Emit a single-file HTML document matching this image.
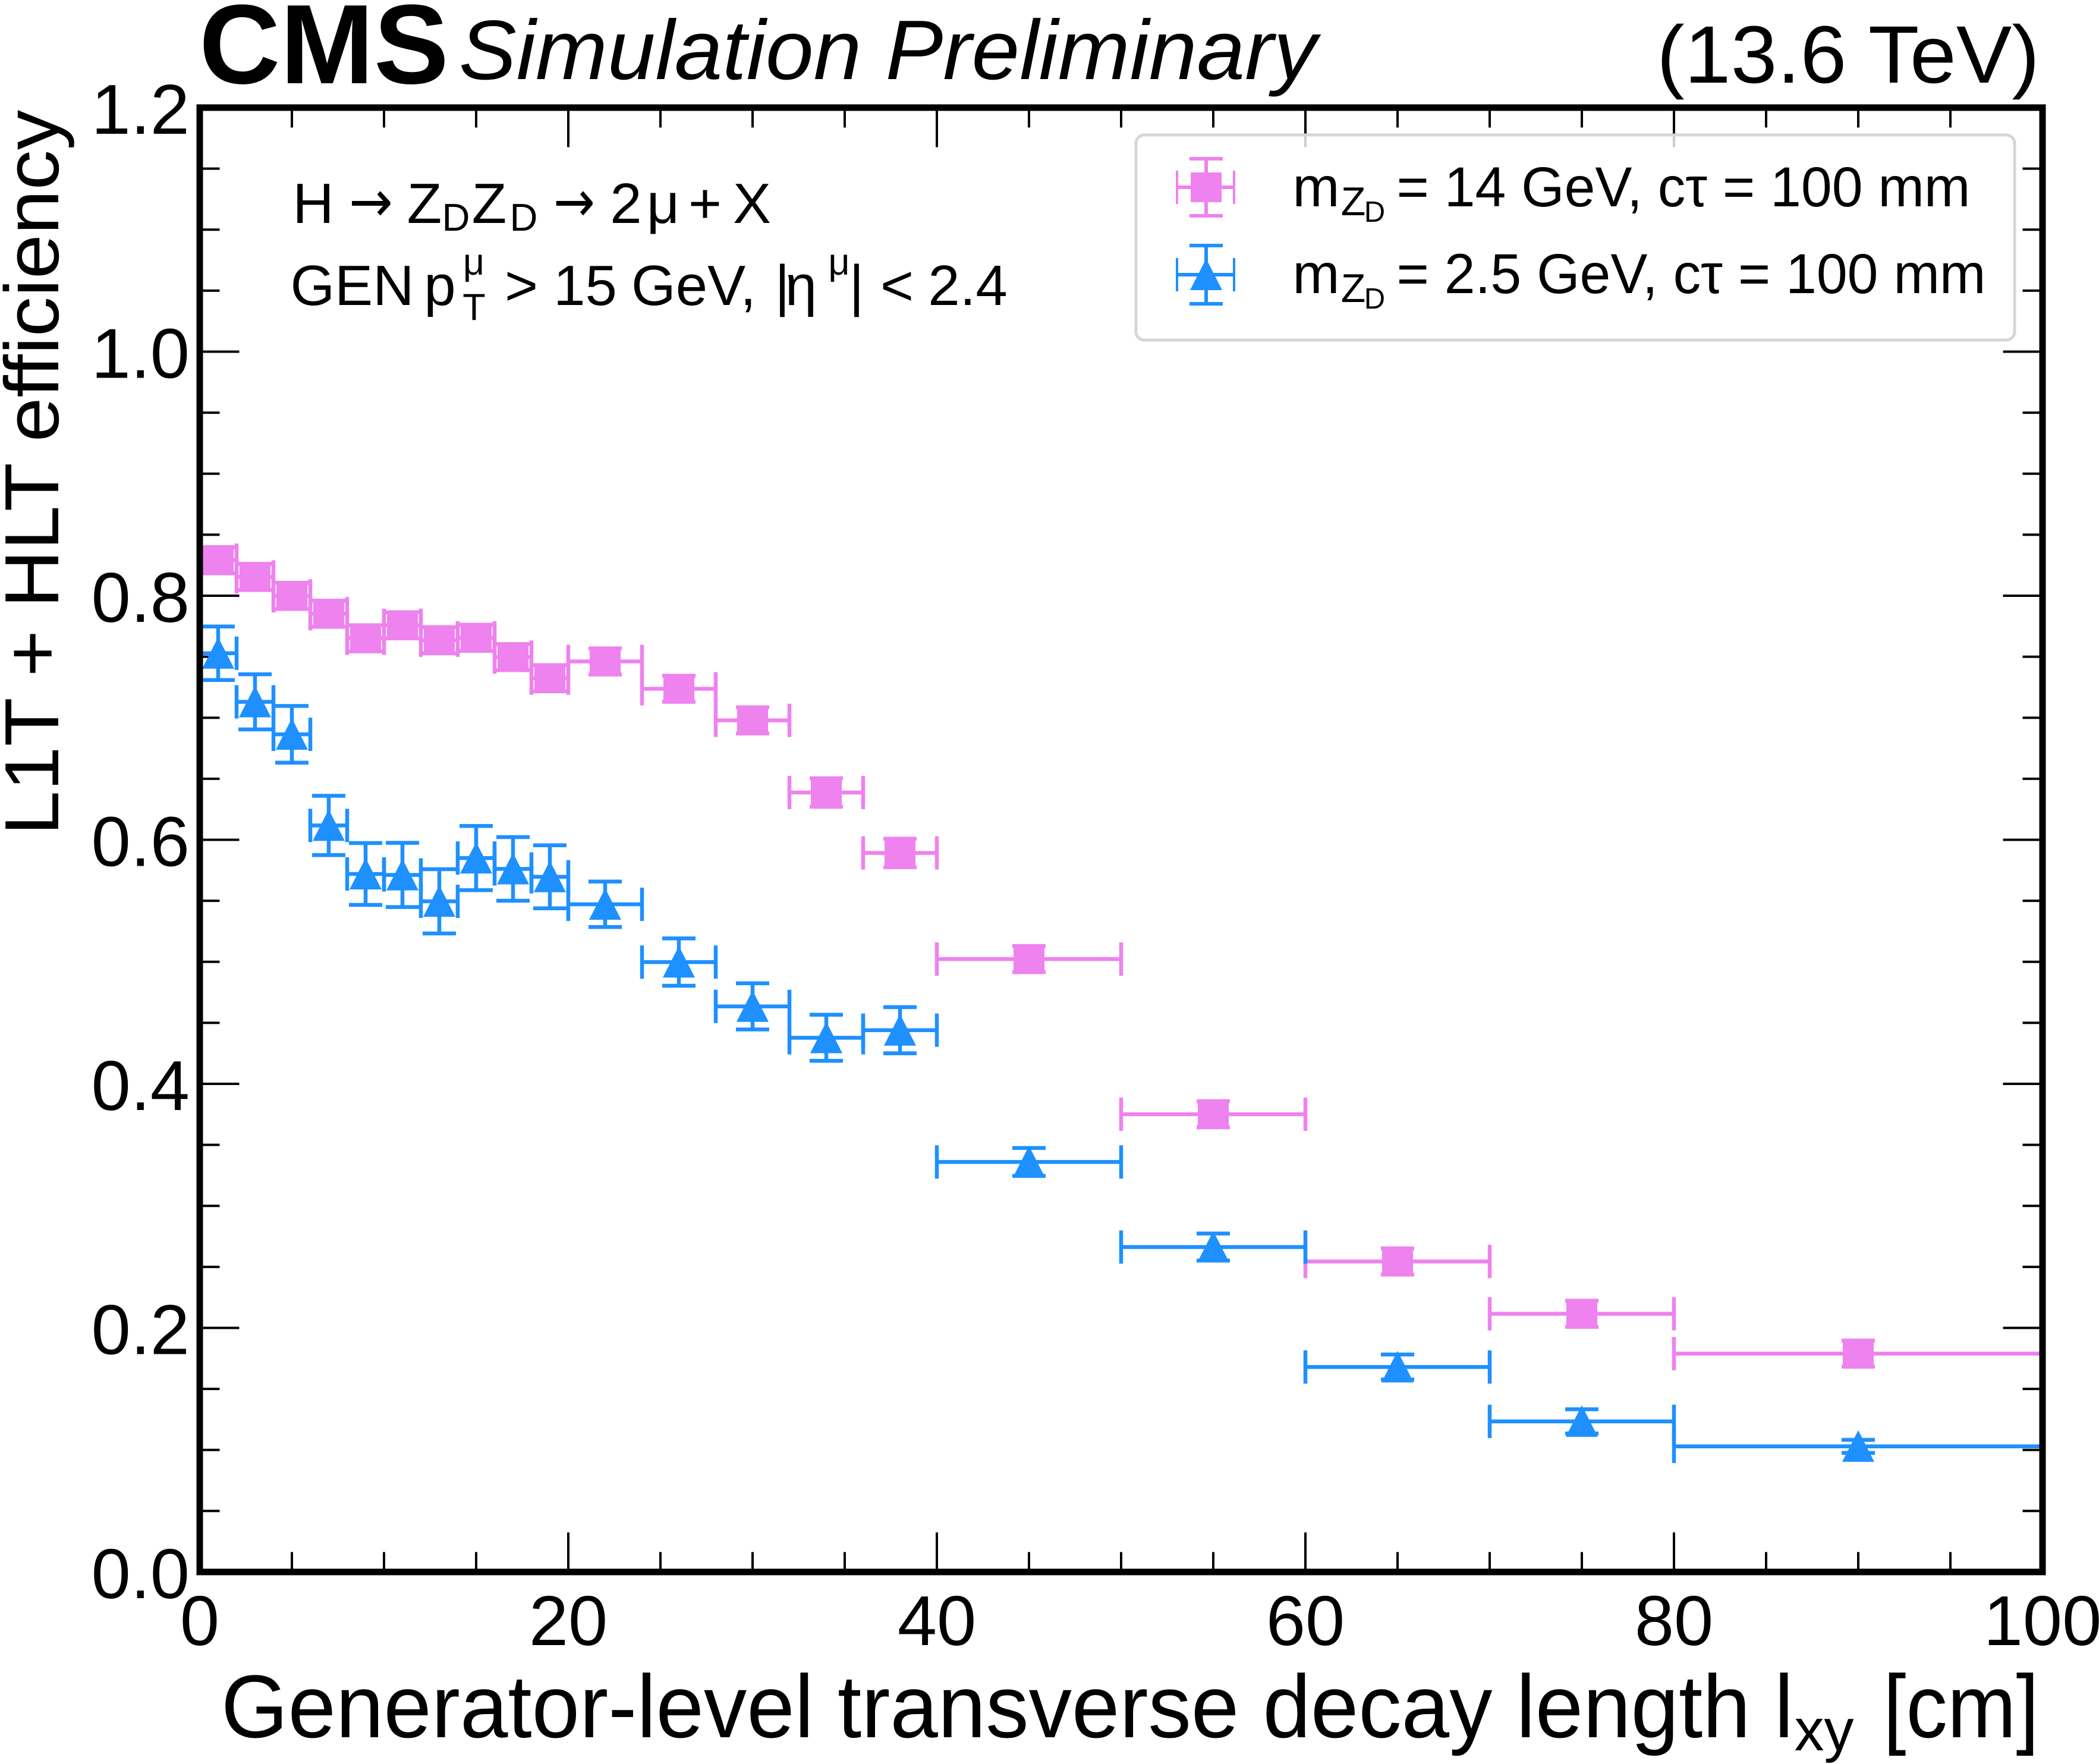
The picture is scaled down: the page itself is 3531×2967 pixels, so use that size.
<!DOCTYPE html>
<html><head><meta charset="utf-8"><style>
html,body{margin:0;padding:0;background:#fff}
svg{display:block}
text{font-family:"Liberation Sans","DejaVu Sans",Arial,sans-serif;fill:#000}
text.arr{font-family:"DejaVu Sans","Liberation Sans",sans-serif}
</style></head><body>
<svg xmlns="http://www.w3.org/2000/svg" width="3531" height="2967" viewBox="0 0 3531 2967">
<defs>
<path id="hx2" d="M-31 0H31M-31-28V28M31-28V28"/>
<path id="hx4" d="M-62 0H62M-62-28V28M62-28V28"/>
<path id="hx10" d="M-155 0H155M-155-28V28M155-28V28"/>
<path id="hx20" d="M-310 0H310M-310-28V28M310-28V28"/>
<path id="ve22" d="M0-22V22M-28-22H28M-28 22H28"/>
<path id="ve24" d="M0-24V24M-28-24H28M-28 24H28"/>
<rect id="sq" x="-26" y="-25" width="52" height="50"/>
<path id="tri" d="M0-27L27 26H-27Z"/>
</defs>
<rect width="3531" height="2967" fill="#fff"/>

<!-- ticks -->
<g stroke="#000" stroke-width="4" fill="none">
<path d="M956 2644V2577.5M1576 2644V2577.5M2196 2644V2577.5M2816 2644V2577.5M956 181V247.5M1576 181V247.5M2196 181V247.5M2816 181V247.5"/>
<path d="M491 2644V2610.5M646 2644V2610.5M801 2644V2610.5M1111 2644V2610.5M1266 2644V2610.5M1421 2644V2610.5M1731 2644V2610.5M1886 2644V2610.5M2041 2644V2610.5M2351 2644V2610.5M2506 2644V2610.5M2661 2644V2610.5M2971 2644V2610.5M3126 2644V2610.5M3281 2644V2610.5"/>
<path d="M491 181V214.5M646 181V214.5M801 181V214.5M1111 181V214.5M1266 181V214.5M1421 181V214.5M1731 181V214.5M1886 181V214.5M2041 181V214.5M2351 181V214.5M2506 181V214.5M2661 181V214.5M2971 181V214.5M3126 181V214.5M3281 181V214.5"/>
<path d="M336 2233.5H402.5M336 1823H402.5M336 1412.5H402.5M336 1002H402.5M336 591.5H402.5M3436 2233.5H3369.5M3436 1823H3369.5M3436 1412.5H3369.5M3436 1002H3369.5M3436 591.5H3369.5"/>
<path d="M336 2541.4H369.5M336 2438.75H369.5M336 2336.1H369.5M336 2130.9H369.5M336 2028.25H369.5M336 1925.6H369.5M336 1720.4H369.5M336 1617.75H369.5M336 1515.1H369.5M336 1309.9H369.5M336 1207.25H369.5M336 1104.6H369.5M336 899.4H369.5M336 796.75H369.5M336 694.1H369.5M336 488.9H369.5M336 386.25H369.5M336 283.6H369.5"/>
<path d="M3436 2541.4H3402.5M3436 2438.75H3402.5M3436 2336.1H3402.5M3436 2130.9H3402.5M3436 2028.25H3402.5M3436 1925.6H3402.5M3436 1720.4H3402.5M3436 1617.75H3402.5M3436 1515.1H3402.5M3436 1309.9H3402.5M3436 1207.25H3402.5M3436 1104.6H3402.5M3436 899.4H3402.5M3436 796.75H3402.5M3436 694.1H3402.5M3436 488.9H3402.5M3436 386.25H3402.5M3436 283.6H3402.5"/>
</g>

<!-- pink series -->
<g stroke="#EE82EE" stroke-width="6.5" fill="none">
<use href="#hx2" x="367" y="942.3"/><use href="#ve22" x="367" y="942.3"/>
<use href="#hx2" x="429" y="970.4"/><use href="#ve22" x="429" y="970.4"/>
<use href="#hx2" x="491" y="1002.2"/><use href="#ve22" x="491" y="1002.2"/>
<use href="#hx2" x="553" y="1032.2"/><use href="#ve22" x="553" y="1032.2"/>
<use href="#hx2" x="615" y="1073.6"/><use href="#ve22" x="615" y="1073.6"/>
<use href="#hx2" x="677" y="1051.7"/><use href="#ve22" x="677" y="1051.7"/>
<use href="#hx2" x="739" y="1076.9"/><use href="#ve22" x="739" y="1076.9"/>
<use href="#hx2" x="801" y="1072.8"/><use href="#ve22" x="801" y="1072.8"/>
<use href="#hx2" x="863" y="1105.2"/><use href="#ve22" x="863" y="1105.2"/>
<use href="#hx2" x="925" y="1140.7"/><use href="#ve22" x="925" y="1140.7"/>
<use href="#hx4" x="1018" y="1112.5"/><use href="#ve22" x="1018" y="1112.5"/>
<use href="#hx4" x="1142" y="1158.5"/><use href="#ve22" x="1142" y="1158.5"/>
<use href="#hx4" x="1266" y="1211.6"/><use href="#ve22" x="1266" y="1211.6"/>
<use href="#hx4" x="1390" y="1333"/><use href="#ve24" x="1390" y="1333"/>
<use href="#hx4" x="1514" y="1434.6"/><use href="#ve24" x="1514" y="1434.6"/>
<use href="#hx10" x="1731" y="1613.1"/><use href="#ve22" x="1731" y="1613.1"/>
<use href="#hx10" x="2041" y="1874.1"/><use href="#ve22" x="2041" y="1874.1"/>
<use href="#hx10" x="2351" y="2121.7"/><use href="#ve22" x="2351" y="2121.7"/>
<use href="#hx10" x="2661" y="2209.7"/><use href="#ve22" x="2661" y="2209.7"/>
<use href="#hx20" x="3126" y="2276.7"/><use href="#ve22" x="3126" y="2276.7"/>
</g>
<g fill="#EE82EE" stroke="none">
<use href="#sq" x="367" y="942.3"/><use href="#sq" x="429" y="970.4"/><use href="#sq" x="491" y="1002.2"/><use href="#sq" x="553" y="1032.2"/><use href="#sq" x="615" y="1073.6"/><use href="#sq" x="677" y="1051.7"/><use href="#sq" x="739" y="1076.9"/><use href="#sq" x="801" y="1072.8"/><use href="#sq" x="863" y="1105.2"/><use href="#sq" x="925" y="1140.7"/>
<use href="#sq" x="1018" y="1112.5"/><use href="#sq" x="1142" y="1158.5"/><use href="#sq" x="1266" y="1211.6"/><use href="#sq" x="1390" y="1333"/><use href="#sq" x="1514" y="1434.6"/>
<use href="#sq" x="1731" y="1613.1"/><use href="#sq" x="2041" y="1874.1"/><use href="#sq" x="2351" y="2121.7"/><use href="#sq" x="2661" y="2209.7"/><use href="#sq" x="3126" y="2276.7"/>
</g>

<!-- blue series -->
<g stroke="#1E90FF" stroke-width="6.5" fill="none">
<use href="#hx2" x="367" y="1098.8"/><path transform="translate(367 1098.8)" d="M0-45V45M-28-45H28M-28 45H28"/>
<use href="#hx2" x="429" y="1180.5"/><path transform="translate(429 1180.5)" d="M0-46.4V46.4M-28-46.4H28M-28 46.4H28"/>
<use href="#hx2" x="491" y="1235.1"/><path transform="translate(491 1235.1)" d="M0-47.7V47.7M-28-47.7H28M-28 47.7H28"/>
<use href="#hx2" x="553" y="1388.4"/><path transform="translate(553 1388.4)" d="M0-49.9V49.9M-28-49.9H28M-28 49.9H28"/>
<use href="#hx2" x="615" y="1470"/><path transform="translate(615 1470)" d="M0-52V52M-28-52H28M-28 52H28"/>
<use href="#hx2" x="677" y="1471.6"/><path transform="translate(677 1471.6)" d="M0-54V54M-28-54H28M-28 54H28"/>
<use href="#hx2" x="739" y="1516"/><path transform="translate(739 1516)" d="M0-54V54M-28-54H28M-28 54H28"/>
<use href="#hx2" x="801" y="1443.3"/><path transform="translate(801 1443.3)" d="M0-54V54M-28-54H28M-28 54H28"/>
<use href="#hx2" x="863" y="1461.5"/><path transform="translate(863 1461.5)" d="M0-53.5V53.5M-28-53.5H28M-28 53.5H28"/>
<use href="#hx2" x="925" y="1474.7"/><path transform="translate(925 1474.7)" d="M0-53V53M-28-53H28M-28 53H28"/>
<use href="#hx4" x="1018" y="1521"/><path transform="translate(1018 1521)" d="M0-38.3V38.3M-28-38.3H28M-28 38.3H28"/>
<use href="#hx4" x="1142" y="1618.2"/><path transform="translate(1142 1618.2)" d="M0-39.8V39.8M-28-39.8H28M-28 39.8H28"/>
<use href="#hx4" x="1266" y="1692.7"/><path transform="translate(1266 1692.7)" d="M0-38.8V38.8M-28-38.8H28M-28 38.8H28"/>
<use href="#hx4" x="1390" y="1745.5"/><path transform="translate(1390 1745.5)" d="M0-38.8V38.8M-28-38.8H28M-28 38.8H28"/>
<use href="#hx4" x="1514" y="1732.8"/><path transform="translate(1514 1732.8)" d="M0-38.8V38.8M-28-38.8H28M-28 38.8H28"/>
<use href="#hx10" x="1731" y="1954.4"/><path transform="translate(1731 1954.4)" d="M0-23.5V23.5M-28-23.5H28M-28 23.5H28"/>
<use href="#hx10" x="2041" y="2097.5"/><path transform="translate(2041 2097.5)" d="M0-22.8V22.8M-28-22.8H28M-28 22.8H28"/>
<use href="#hx10" x="2351" y="2299.2"/><path transform="translate(2351 2299.2)" d="M0-21V21M-28-21H28M-28 21H28"/>
<use href="#hx10" x="2661" y="2390.7"/><path transform="translate(2661 2390.7)" d="M0-20.3V20.3M-28-20.3H28M-28 20.3H28"/>
<use href="#hx20" x="3126" y="2432.7"/><path transform="translate(3126 2432.7)" d="M0-11V11M-28-11H28M-28 11H28"/>
</g>
<g fill="#1E90FF" stroke="none">
<use href="#tri" x="367" y="1098.8"/><use href="#tri" x="429" y="1180.5"/><use href="#tri" x="491" y="1235.1"/><use href="#tri" x="553" y="1388.4"/><use href="#tri" x="615" y="1470"/><use href="#tri" x="677" y="1471.6"/><use href="#tri" x="739" y="1516"/><use href="#tri" x="801" y="1443.3"/><use href="#tri" x="863" y="1461.5"/><use href="#tri" x="925" y="1474.7"/>
<use href="#tri" x="1018" y="1521"/><use href="#tri" x="1142" y="1618.2"/><use href="#tri" x="1266" y="1692.7"/><use href="#tri" x="1390" y="1745.5"/><use href="#tri" x="1514" y="1732.8"/>
<use href="#tri" x="1731" y="1954.4"/><use href="#tri" x="2041" y="2097.5"/><use href="#tri" x="2351" y="2299.2"/><use href="#tri" x="2661" y="2390.7"/><use href="#tri" x="3126" y="2432.7"/>
</g>

<!-- legend -->
<rect x="1911" y="227" width="1478" height="345" rx="14" ry="14" fill="#fff" fill-opacity="0.8" stroke="#d6d6d6" stroke-width="5"/>
<g stroke="#EE82EE" stroke-width="6" fill="none">
<path d="M1980 315H2078M2029 266V364M2001 267H2057M2001 363H2057"/>
<path d="M1980 287V343M2076 287V343" stroke-width="4"/>
</g>
<rect x="2003" y="290" width="52" height="50" fill="#EE82EE"/>
<g stroke="#1E90FF" stroke-width="6" fill="none">
<path d="M1980 462H2078M2029 412V512M2001 413H2057M2001 511H2057"/>
<path d="M1980 434V490M2076 434V490" stroke-width="4"/>
</g>
<path d="M2029 435L2056 488H2002Z" fill="#1E90FF"/>

<g font-size="95">
<text x="2214" y="347" text-anchor="middle">m</text>
<text x="2276.5" y="362" font-size="68" text-anchor="middle">Z</text>
<text x="2312.5" y="373" font-size="49" text-anchor="middle">D</text>
<text x="2349.5" y="347" textLength="965" lengthAdjust="spacingAndGlyphs">= 14 GeV, cτ = 100 mm</text>
<text x="2214" y="493" text-anchor="middle">m</text>
<text x="2276.5" y="508" font-size="68" text-anchor="middle">Z</text>
<text x="2312.5" y="519" font-size="49" text-anchor="middle">D</text>
<text x="2349.5" y="493" textLength="991" lengthAdjust="spacingAndGlyphs">= 2.5 GeV, cτ = 100 mm</text>
</g>

<!-- frame -->
<rect x="336" y="181" width="3100" height="2463" fill="none" stroke="#000" stroke-width="11"/>

<!-- header -->
<text x="335" y="140" font-weight="bold" font-size="190" textLength="420" lengthAdjust="spacingAndGlyphs">CMS</text>
<text x="772" y="133" font-style="italic" font-size="142" textLength="1443" lengthAdjust="spacingAndGlyphs">Simulation Preliminary</text>
<text x="2787" y="139" font-size="137" textLength="644" lengthAdjust="spacingAndGlyphs">(13.6 TeV)</text>

<!-- annotation lines -->
<g font-size="96" text-anchor="middle">
<text x="527" y="375">H</text>
<text class="arr" x="624" y="372" textLength="74" lengthAdjust="spacingAndGlyphs">→</text>
<text x="714" y="375">Z</text>
<text x="767" y="388" font-size="65">D</text>
<text x="823" y="375">Z</text>
<text x="881" y="388" font-size="65">D</text>
<text class="arr" x="966" y="372" textLength="70" lengthAdjust="spacingAndGlyphs">→</text>
<text x="1053" y="375">2</text>
<text x="1115.5" y="375">μ</text>
<text x="1186" y="375">+</text>
<text x="1265" y="375">X</text>

<text x="592.5" y="513">GEN</text>
<text x="740" y="513">p</text>
<text x="797" y="462" font-size="63">μ</text>
<text x="797.5" y="538" font-size="63">T</text>
<text x="877" y="513">&gt;</text>
<text x="984.5" y="513">15</text>
<text x="1167" y="513">GeV,</text>
<text x="1316" y="513">|</text>
<text x="1347.5" y="513">η</text>
<text x="1411.5" y="462" font-size="63">μ</text>
<text x="1441" y="513">|</text>
<text x="1509" y="513">&lt;</text>
<text x="1628" y="513">2.4</text>
</g>

<!-- tick labels -->
<g font-size="119" text-anchor="end">
<text x="319" y="2688">0.0</text>
<text x="319" y="2277.5">0.2</text>
<text x="319" y="1867">0.4</text>
<text x="319" y="1456.5">0.6</text>
<text x="319" y="1046">0.8</text>
<text x="319" y="635.5">1.0</text>
<text x="319" y="225">1.2</text>
</g>
<g font-size="119" text-anchor="middle">
<text x="336" y="2767">0</text>
<text x="956" y="2767">20</text>
<text x="1576" y="2767">40</text>
<text x="2196" y="2767">60</text>
<text x="2816" y="2767">80</text>
<text x="3436" y="2767">100</text>
</g>

<!-- axis labels -->
<text transform="translate(98 1405) rotate(-90)" font-size="129" textLength="1220" lengthAdjust="spacingAndGlyphs">L1T + HLT efficiency</text>
<text x="372" y="2922" font-size="150" textLength="2645" lengthAdjust="spacingAndGlyphs">Generator-level transverse decay length l</text>
<text x="3068.5" y="2944" font-size="100" text-anchor="middle">xy</text>
<text x="3299" y="2922" font-size="150" text-anchor="middle" textLength="262" lengthAdjust="spacingAndGlyphs">[cm]</text>
</svg>
</body></html>
